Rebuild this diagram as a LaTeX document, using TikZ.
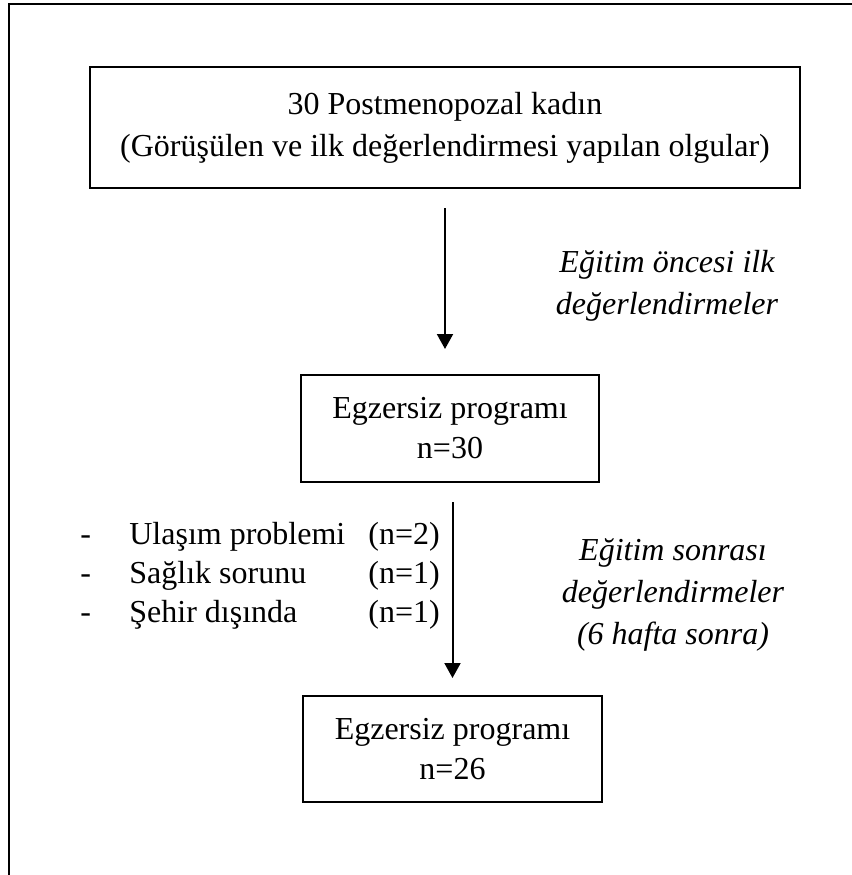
\documentclass[tikz,border=0pt]{standalone}
\usepackage{fontspec}
\setmainfont{Liberation Serif}
\usetikzlibrary{arrows.meta,positioning}

\begin{document}
\begin{tikzpicture} [node distance = 92.5pt]
            \tikzstyle{box}=[draw, rectangle, line width=1pt, inner sep=0pt, align=center, font=\fontsize{16}{20}\selectfont]
            \tikzstyle{note}=[inner sep=0pt, align=center, font=\fontsize{16}{21}\selectfont\itshape]
            \tikzstyle{flow}=[line width=1pt, -{Triangle[width=8pt,length=7.5pt]}]
            \useasboundingbox (0pt,0pt) rectangle (426pt,-437.5pt);
            \draw[line width=1pt] (4.5pt,-437.5pt) -- (4.5pt,-2pt) -- (426pt,-2pt);
            
            \node[box, minimum width=355pt, minimum height=60.5pt, font=\fontsize{16}{21}\selectfont]  (women)  at (222.5pt,-63.75pt)  {30 Postmenopozal kadın\\(Görüşülen ve ilk değerlendirmesi yapılan olgular)};
            \node[box, minimum width=149pt, minimum height=53.5pt]  (prog1)  [below=of women, xshift=2.5pt]  {Egzersiz programı\\n=30};
            \node[box, minimum width=149.5pt, minimum height=53pt]  (prog2)  [below=106pt of prog1, xshift=1.25pt]  {Egzersiz programı\\n=26};
            
            \node[note]     (before)    at (333.5pt,-143pt)     {Eğitim öncesi ilk\\değerlendirmeler};
            \node[note]     (after)     at (336.5pt,-297.5pt)   {Eğitim sonrası\\değerlendirmeler\\(6 hafta sonra)};
            \node[inner sep=0pt, anchor=west, font=\fontsize{16}{19.5}\selectfont]  (reasons)  at (40pt,-288pt)  {\begin{tabular}{@{}p{24.5pt}@{}p{119.5pt}@{}l@{}}
                - & Ulaşım problemi & (n=2)\\
                - & Sağlık sorunu   & (n=1)\\
                - & Şehir dışında   & (n=1)
            \end{tabular}};
            
            \draw[flow, shorten <=9.5pt, shorten >=12.5pt]  (women.south)  --  (women.south |- prog1.north);
            \draw[flow, shorten <=9.5pt, shorten >=8.5pt]   (prog2.north |- prog1.south)  --  (prog2.north);
        \end{tikzpicture}
\end{document}
